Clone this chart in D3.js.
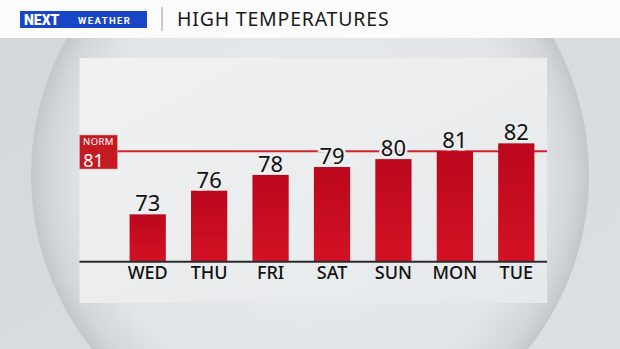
<!DOCTYPE html>
<html>
<head>
<meta charset="utf-8">
<script src="https://cdn.jsdelivr.net/npm/d3@7"></script>
<style>
  html, body { margin: 0; padding: 0; background: #d8dcde; }
  svg { display: block; }
</style>
</head>
<body>
<div id="chart"></div>
<script>
const days = ["WED", "THU", "FRI", "SAT", "SUN", "MON", "TUE"];
const highs = [73, 76, 78, 79, 80, 81, 82];
const normal = 81;
const title = "HIGH TEMPERATURES";

const width = 620;
const height = 349;

const svg = d3.select("#chart")
  .append("svg")
  .attr("width", width)
  .attr("height", height);

const defs = svg.append("defs");

const bg = defs.append("linearGradient").attr("id", "bg").attr("x1", 0).attr("y1", 0).attr("x2", 1).attr("y2", 1);
bg.append("stop").attr("offset", "0%").attr("stop-color", "#d3d7d9");
bg.append("stop").attr("offset", "100%").attr("stop-color", "#dde0e2");

const disc = defs.append("radialGradient").attr("id", "disc");
disc.append("stop").attr("offset", "0%").attr("stop-color", "#e9ecee");
disc.append("stop").attr("offset", "80%").attr("stop-color", "#e2e5e7");
disc.append("stop").attr("offset", "94%").attr("stop-color", "#d3d6d8");
disc.append("stop").attr("offset", "100%").attr("stop-color", "#c4c7c9");

const panelGrad = defs.append("linearGradient").attr("id", "panel").attr("x1", 0).attr("y1", 0).attr("x2", 1).attr("y2", 1);
panelGrad.append("stop").attr("offset", "0%").attr("stop-color", "#eff1f2");
panelGrad.append("stop").attr("offset", "100%").attr("stop-color", "#e6e9eb");

const barGrad = defs.append("linearGradient").attr("id", "bar").attr("x1", 0).attr("y1", 0).attr("x2", 0).attr("y2", 1);
barGrad.append("stop").attr("offset", "0%").attr("stop-color", "#bb071c");
barGrad.append("stop").attr("offset", "100%").attr("stop-color", "#d31224");

const font = "'Noto Sans', sans-serif";

// background
svg.append("rect").attr("width", width).attr("height", height).attr("fill", "url(#bg)");
svg.append("circle").attr("cx", 310).attr("cy", 175).attr("r", 279).attr("fill", "url(#disc)");

// header
svg.append("rect").attr("width", width).attr("height", 38).attr("fill", "#fbfbfb");
svg.append("rect").attr("x", 20).attr("y", 11).attr("width", 127).attr("height", 17).attr("fill", "#1846c6");
svg.append("text").attr("x", 24).attr("y", 25)
  .style("font-family", "Roboto, sans-serif").style("font-weight", 900).style("font-size", "14px")
  .attr("fill", "#fff").text("NEXT");
svg.append("text").attr("x", 78).attr("y", 24)
  .style("font-family", "Roboto, sans-serif").style("font-weight", 700).style("font-size", "9.5px")
  .style("letter-spacing", "1.4px").attr("fill", "#fff").text("WEATHER");
svg.append("line").attr("x1", 162).attr("x2", 162).attr("y1", 7).attr("y2", 31)
  .attr("stroke", "#9a9a9a").attr("stroke-width", 1);
svg.append("text").attr("x", 177).attr("y", 26)
  .style("font-family", font).style("font-size", "19.5px")
  .style("letter-spacing", "0.8px").attr("fill", "#1a1a1a").text(title);

// panel
const panel = { left: 79.5, right: 547, top: 58, bottom: 303 };
svg.append("rect")
  .attr("x", panel.left).attr("y", panel.top)
  .attr("width", panel.right - panel.left).attr("height", panel.bottom - panel.top)
  .attr("fill", "url(#panel)");

const baseY = 261.7;

const x = d3.scaleBand()
  .domain(days)
  .range([117, 547])
  .paddingInner(0.41)
  .paddingOuter(0.205);

const y = d3.scaleLinear()
  .domain([67, 82])
  .range([baseY, baseY - 15 * 7.89]);

// normal line
svg.append("line")
  .attr("x1", 110).attr("x2", panel.right)
  .attr("y1", y(normal)).attr("y2", y(normal))
  .attr("stroke", "#d2232e").attr("stroke-width", 2);

// bars
svg.append("g")
  .selectAll("rect")
  .data(highs)
  .enter()
  .append("rect")
  .attr("x", (d, i) => x(days[i]))
  .attr("width", x.bandwidth())
  .attr("y", d => y(d))
  .attr("height", d => baseY - y(d))
  .attr("fill", "url(#bar)");

// value labels
svg.append("g")
  .selectAll("text")
  .data(highs)
  .enter()
  .append("text")
  .attr("x", (d, i) => x(days[i]) + x.bandwidth() / 2)
  .attr("y", d => y(d) - 3)
  .attr("text-anchor", "middle")
  .style("font-family", font)
  .style("font-size", "22px")
  .style("paint-order", "stroke")
  .attr("stroke", "#eceeef")
  .attr("stroke-width", 5)
  .attr("fill", "#111")
  .text(d => d);

// baseline axis
const axis = svg.append("g")
  .attr("transform", `translate(0,${baseY})`)
  .call(d3.axisBottom(x).tickSize(0).tickPadding(5));
axis.select(".domain").remove();
axis.append("line").attr("x1", panel.left).attr("x2", panel.right)
  .attr("stroke", "#2b2b2b").attr("stroke-width", 2);
axis.selectAll(".tick text")
  .style("font-family", font)
  .style("font-size", "18px")
  .style("font-weight", 500)
  .attr("fill", "#111");

// norm box
svg.append("rect").attr("x", 79.5).attr("y", 135).attr("width", 38).attr("height", 34)
  .attr("fill", "#c41b23").attr("stroke", "#e8a5a8").attr("stroke-width", 0.6);
svg.append("text").attr("x", 98.5).attr("y", 144.5).attr("text-anchor", "middle")
  .style("font-family", font).style("font-size", "9.5px")
  .style("letter-spacing", "0.4px")
  .attr("fill", "#fff").text("NORM");
svg.append("text").attr("x", 93.5).attr("y", 167).attr("text-anchor", "middle")
  .style("font-family", font).style("font-size", "18px")
  .attr("fill", "#fff").text(normal);
</script>
</body>
</html>
